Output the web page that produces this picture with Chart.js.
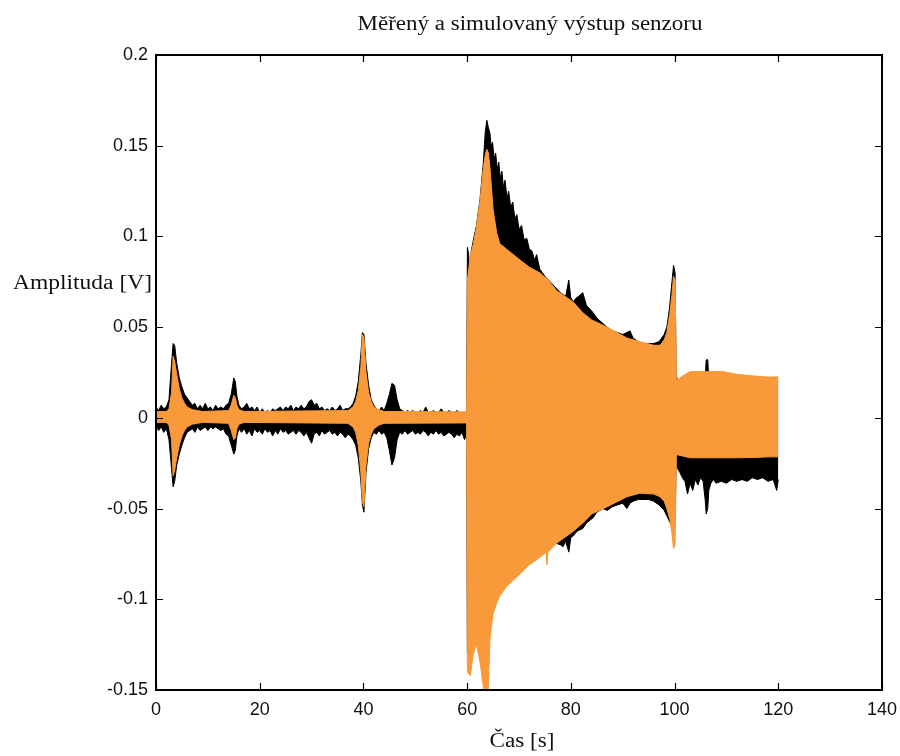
<!DOCTYPE html>
<html>
<head>
<meta charset="utf-8">
<script src="https://cdn.jsdelivr.net/npm/chart.js@4.4.1/dist/chart.umd.min.js"></script>
<style>
  html, body { margin: 0; padding: 0; background: #ffffff; }
  canvas { display: block; }
</style>
</head>
<body>
<canvas id="c" width="900" height="756"></canvas>
<script>
// Texts
const chartTitle = 'Měřený a simulovaný výstup senzoru';
const xTitle = 'Čas [s]';
const yTitle = 'Amplituda [V]';

// Axis ticks
const xTicks = [0, 20, 40, 60, 80, 100, 120, 140];
const yTicks = [-0.15, -0.1, -0.05, 0, 0.05, 0.1, 0.15, 0.2];
const yTickLabels = ['-0.15', '-0.1', '-0.05', '0', '0.05', '0.1', '0.15', '0.2'];

// Measured sensor output: time [s] with upper / lower envelope of the oscillation [V]
const measuredTime = [
  0, 0.5, 1, 1.5, 2, 2.5, 3, 3.3, 3.6, 4, 4.5, 5, 5.5, 6, 6.5, 7, 7.5, 8, 8.5, 9, 9.5,
  10, 10.5, 11, 11.5, 12, 12.5, 13, 13.5, 14, 14.5, 15, 15.3, 15.6, 16, 16.5, 17, 17.5,
  18, 18.5, 19, 19.5, 20, 20.5, 21, 21.5, 22, 22.5, 23, 23.5, 24, 24.5, 25, 25.5, 26,
  26.5, 27, 27.5, 28, 28.5, 29, 29.5, 30, 30.5, 31, 31.5, 32, 32.5, 33, 33.5, 34, 34.5,
  35, 35.5, 36, 36.5, 37, 37.5, 38, 38.5, 39, 39.5, 39.8, 40.1, 40.5, 41, 41.5, 42, 42.5,
  43, 43.5, 44, 44.5, 45, 45.5, 46, 46.5, 47, 47.5, 48, 48.5, 49, 49.5, 50, 50.5, 51,
  51.5, 52, 52.5, 53, 53.5, 54, 54.5, 55, 55.5, 56, 56.5, 57, 57.5, 58, 58.5, 59, 59.5, 59.9,
  60.05, 60.3, 60.5, 60.8, 61.2, 61.8, 62.5, 63.1, 63.5,
  63.8, 64.1, 64.4, 64.6, 64.9, 65.2, 65.5, 65.8, 66.1, 66.4, 66.7, 67.0, 67.3, 67.7,
  68.0, 68.4, 68.8, 69.2, 69.6, 70.0, 70.5, 71.0, 71.5, 72.0, 72.5, 73.0, 73.4, 74.0,
  75, 76, 77, 78, 78.5, 79, 79.6,
  80, 80.5, 81, 81.5, 82.3, 83, 84.3, 85, 86.2, 87, 88, 89, 90, 90.8, 91.4, 92, 93, 94,
  95, 96, 97, 98, 98.5, 99, 99.5, 99.8, 100.1, 100.3, 100.6, 101, 101.5, 102, 102.5, 103,
  103.5, 104, 104.5, 105, 105.5, 105.9, 106.1, 106.4, 106.6, 107, 107.5, 108, 109, 110,
  111, 112, 113, 114, 115, 116, 117, 118, 119, 119.7, 120
];
const measuredHigh = [
  0.006, 0.004, 0.007, 0.005, 0.006, 0.010, 0.030, 0.041, 0.040, 0.030, 0.022, 0.017, 0.013, 0.011, 0.009, 0.007, 0.008, 0.005, 0.007, 0.005, 0.008,
  0.005, 0.006, 0.004, 0.007, 0.005, 0.006, 0.005, 0.007, 0.008, 0.013, 0.022, 0.020, 0.012, 0.007, 0.005, 0.006, 0.008,
  0.005, 0.006, 0.004, 0.006, 0.003, 0.005, 0.003, 0.004, 0.003, 0.005, 0.004, 0.005, 0.006, 0.004, 0.006, 0.005, 0.007,
  0.004, 0.006, 0.005, 0.007, 0.005, 0.006, 0.009, 0.010, 0.007, 0.008, 0.005, 0.006, 0.004, 0.005, 0.004, 0.006, 0.004,
  0.005, 0.007, 0.004, 0.005, 0.005, 0.006, 0.008, 0.012, 0.020, 0.035, 0.047, 0.046, 0.030, 0.018, 0.010, 0.007, 0.005,
  0.004, 0.006, 0.004, 0.008, 0.013, 0.019, 0.018, 0.010, 0.005, 0.004, 0.003, 0.004, 0.003, 0.004, 0.003, 0.003, 0.004,
  0.003, 0.006, 0.003, 0.003, 0.004, 0.003, 0.003, 0.005, 0.003, 0.003, 0.004, 0.003, 0.003, 0.004, 0.003, 0.003, 0.003, 0.003,
  0.094, 0.090, 0.080, 0.092, 0.098, 0.106, 0.121, 0.140, 0.158,
  0.164, 0.160, 0.157, 0.150, 0.152, 0.143, 0.146, 0.137, 0.141, 0.132, 0.136, 0.127, 0.131, 0.121,
  0.125, 0.116, 0.119, 0.110, 0.112, 0.104, 0.106, 0.098, 0.099, 0.093, 0.092, 0.087, 0.090, 0.082,
  0.078, 0.075, 0.072, 0.069, 0.068, 0.067, 0.076,
  0.066, 0.064, 0.066, 0.067, 0.069, 0.062, 0.058, 0.055, 0.052, 0.050, 0.048, 0.047, 0.046, 0.047, 0.048, 0.044, 0.042, 0.041,
  0.041, 0.041, 0.042, 0.046, 0.050, 0.060, 0.075, 0.084, 0.080, 0.024, 0.020, 0.020, 0.020, 0.020, 0.020, 0.020,
  0.020, 0.020, 0.020, 0.020, 0.020, 0.022, 0.032, 0.032, 0.022, 0.020, 0.020, 0.020, 0.020, 0.020,
  0.020, 0.020, 0.020, 0.020, 0.020, 0.020, 0.020, 0.020, 0.020, 0.020, 0.020
];
const measuredLow = [
  -0.004, -0.007, -0.005, -0.008, -0.006, -0.012, -0.028, -0.038, -0.035, -0.026, -0.020, -0.015, -0.011, -0.008, -0.007, -0.006, -0.008, -0.005, -0.007, -0.006, -0.005,
  -0.007, -0.005, -0.006, -0.005, -0.006, -0.007, -0.006, -0.009, -0.010, -0.015, -0.020, -0.018, -0.010, -0.006, -0.008, -0.006, -0.009,
  -0.007, -0.010, -0.006, -0.008, -0.007, -0.009, -0.006, -0.008, -0.007, -0.010, -0.007, -0.009, -0.006, -0.008, -0.007, -0.009, -0.008,
  -0.007, -0.009, -0.007, -0.008, -0.010, -0.008, -0.011, -0.014, -0.009, -0.008, -0.010, -0.007, -0.009, -0.008, -0.007, -0.009, -0.008,
  -0.010, -0.008, -0.009, -0.011, -0.009, -0.010, -0.012, -0.015, -0.022, -0.035, -0.048, -0.052, -0.030, -0.017, -0.011, -0.008, -0.009,
  -0.007, -0.009, -0.008, -0.011, -0.018, -0.026, -0.022, -0.012, -0.008, -0.009, -0.007, -0.009, -0.008, -0.007, -0.009, -0.008, -0.009,
  -0.007, -0.008, -0.010, -0.008, -0.009, -0.007, -0.009, -0.008, -0.010, -0.009, -0.008, -0.009, -0.011, -0.009, -0.010, -0.008, -0.012, -0.009,
  -0.130, -0.128, -0.125, -0.120, -0.115, -0.115, -0.120, -0.130, -0.130,
  -0.125, -0.120, -0.110, -0.105, -0.102, -0.099, -0.097, -0.095, -0.094, -0.092, -0.091, -0.090, -0.088, -0.087,
  -0.086, -0.085, -0.084, -0.082, -0.081, -0.080, -0.079, -0.078, -0.078, -0.077, -0.076, -0.075, -0.074, -0.072,
  -0.070, -0.068, -0.069, -0.070, -0.071, -0.068, -0.074,
  -0.066, -0.065, -0.063, -0.062, -0.061, -0.058, -0.055, -0.052, -0.050, -0.051, -0.049, -0.048, -0.047, -0.050, -0.047, -0.046, -0.045, -0.045,
  -0.045, -0.046, -0.048, -0.051, -0.054, -0.057, -0.060, -0.060, -0.058, -0.024, -0.028, -0.030, -0.033, -0.035, -0.042, -0.036,
  -0.040, -0.034, -0.037, -0.033, -0.035, -0.045, -0.053, -0.050, -0.040, -0.036, -0.034, -0.036, -0.035, -0.036,
  -0.034, -0.035, -0.034, -0.035, -0.033, -0.034, -0.033, -0.035, -0.034, -0.040, -0.034
];

// Simulated sensor output: time [s] with upper / lower envelope [V]
const simulatedTime = [
  0, 2, 2.5, 3, 3.3, 3.6, 4, 4.5, 5, 5.5, 6, 7, 8, 9, 14, 14.5, 15, 15.3, 15.6, 16, 17,
  37, 38, 38.5, 39, 39.5, 39.8, 40.1, 40.5, 41, 41.5, 42, 43, 44, 59.9,
  60.05, 60.6, 61.2, 61.8, 62.5, 63.1, 63.5, 63.8, 64.1, 64.4, 65.0, 65.7, 66.3, 67.6,
  70.2, 72, 74, 75.2, 75.4, 75.6, 77.3, 80.4, 82.3, 84, 87, 90.8, 93.3, 96, 97.2, 98,
  98.5, 99.1, 99.5, 99.8, 100.1, 100.35, 100.6, 101.5, 103, 106, 109.3, 112, 115.7, 118, 120
];
const simulatedHigh = [
  0.0035, 0.0035, 0.005, 0.014, 0.034, 0.031, 0.024, 0.016, 0.011, 0.008, 0.006, 0.0045, 0.004, 0.0035, 0.004, 0.007, 0.0125, 0.011, 0.007, 0.0045, 0.0035,
  0.004, 0.006, 0.009, 0.015, 0.028, 0.046, 0.044, 0.025, 0.014, 0.009, 0.006, 0.0045, 0.0035, 0.0033,
  0.076, 0.089, 0.096, 0.105, 0.120, 0.137, 0.145, 0.148, 0.146, 0.138, 0.115, 0.102, 0.096, 0.093,
  0.087, 0.083, 0.080, 0.077, 0.077, 0.076, 0.070, 0.064, 0.058, 0.054, 0.050, 0.044, 0.042, 0.040, 0.040, 0.043,
  0.047, 0.058, 0.068, 0.078, 0.076, 0.021, 0.021, 0.023, 0.0255, 0.0255, 0.0255, 0.024, 0.023, 0.0225, 0.0226
];
const simulatedLow = [
  -0.0025, -0.0025, -0.004, -0.012, -0.032, -0.029, -0.022, -0.015, -0.010, -0.007, -0.005, -0.0035, -0.003, -0.0025, -0.003, -0.007, -0.012, -0.011, -0.006, -0.0035, -0.0025,
  -0.003, -0.005, -0.008, -0.015, -0.030, -0.046, -0.049, -0.026, -0.014, -0.009, -0.006, -0.004, -0.003, -0.0028,
  -0.140, -0.142, -0.130, -0.125, -0.135, -0.148, -0.156, -0.156, -0.150, -0.122, -0.108, -0.102, -0.098, -0.093,
  -0.086, -0.081, -0.077, -0.074, -0.081, -0.074, -0.069, -0.0627, -0.058, -0.053, -0.049, -0.0435, -0.0415, -0.042, -0.0435, -0.046,
  -0.050, -0.056, -0.064, -0.072, -0.070, -0.0205, -0.0204, -0.021, -0.022, -0.022, -0.022, -0.022, -0.0218, -0.0215, -0.0215
];

const MEASURED_COLOR = '#000000';
const SIMULATED_COLOR = '#f99a3a';

const toPoints = (t, v) => t.map((x, i) => ({ x: x, y: v[i] }));

function envelope(data, color, fill, order) {
  return {
    data: data,
    borderColor: color,
    backgroundColor: color,
    borderWidth: 1,
    pointRadius: 0,
    fill: fill,
    tension: 0,
    order: order,
    clip: 0
  };
}

const tickFont = { family: '"Liberation Sans", Arial, sans-serif', size: 18 };

// Box frame with inward tick marks on all four sides, plus the text labels
const framePlugin = {
  id: 'frame',
  afterDraw(chart) {
    const { ctx, chartArea: a, scales } = chart;
    ctx.save();
    ctx.strokeStyle = '#000';
    ctx.lineWidth = 1.2;
    ctx.beginPath();
    xTicks.forEach(v => {
      const px = Math.round(scales.x.getPixelForValue(v)) + 0.5;
      ctx.moveTo(px, a.bottom); ctx.lineTo(px, a.bottom - 7);
      ctx.moveTo(px, a.top); ctx.lineTo(px, a.top + 7);
    });
    yTicks.forEach(v => {
      const py = Math.round(scales.y.getPixelForValue(v)) + 0.5;
      ctx.moveTo(a.left, py); ctx.lineTo(a.left + 7, py);
      ctx.moveTo(a.right, py); ctx.lineTo(a.right - 7, py);
    });
    ctx.stroke();
    ctx.lineWidth = 2;
    ctx.strokeRect(a.left, a.top, a.right - a.left, a.bottom - a.top);

    const serif = '"Liberation Serif", "Times New Roman", serif';
    function label(text, x, y, align, size, width) {
      ctx.font = size + 'px ' + serif;
      const w = ctx.measureText(text).width;
      const sx = width / w;
      ctx.save();
      ctx.translate(x, y);
      ctx.scale(sx, 1);
      ctx.textAlign = align;
      ctx.textBaseline = 'alphabetic';
      ctx.fillStyle = '#111';
      ctx.fillText(text, 0, 0);
      ctx.restore();
    }
    label(chartTitle, 530, 30, 'center', 20, 345);
    label(yTitle, 13, 289, 'left', 20, 139);
    label(xTitle, 522, 747, 'center', 20, 65);
    ctx.restore();
  }
};

new Chart(document.getElementById('c'), {
  type: 'line',
  data: {
    datasets: [
      envelope(toPoints(measuredTime, measuredHigh), MEASURED_COLOR, false, 1),
      envelope(toPoints(measuredTime, measuredLow), MEASURED_COLOR, '-1', 1),
      envelope(toPoints(simulatedTime, simulatedHigh), SIMULATED_COLOR, false, 0),
      envelope(toPoints(simulatedTime, simulatedLow), SIMULATED_COLOR, '-1', 0)
    ]
  },
  options: {
    responsive: false,
    animation: false,
    devicePixelRatio: 1,
    layout: { padding: { top: 55, right: 18, left: 0, bottom: 0 } },
    plugins: {
      legend: { display: false },
      tooltip: { enabled: false },
      title: { display: false }
    },
    scales: {
      x: {
        type: 'linear',
        min: 0,
        max: 140,
        afterBuildTicks: s => { s.ticks = xTicks.map(v => ({ value: v })); },
        afterFit: s => {
          s.height = 66;
          s.paddingLeft = 0;
          s.paddingRight = 0;
        },
        grid: { display: false, drawTicks: false },
        border: { display: false },
        ticks: {
          font: tickFont,
          color: '#111',
          padding: 9,
          maxRotation: 0,
          autoSkip: false,
          callback: v => String(v)
        }
      },
      y: {
        type: 'linear',
        min: -0.15,
        max: 0.2,
        afterBuildTicks: s => { s.ticks = yTicks.map(v => ({ value: v })); },
        afterFit: s => {
          s.width = 156;
          s.paddingTop = 0;
          s.paddingBottom = 0;
        },
        grid: { display: false, drawTicks: false },
        border: { display: false },
        ticks: {
          font: tickFont,
          color: '#111',
          padding: 8,
          autoSkip: false,
          callback: (v, i) => yTickLabels[i]
        }
      }
    }
  },
  plugins: [framePlugin]
});
</script>
</body>
</html>
